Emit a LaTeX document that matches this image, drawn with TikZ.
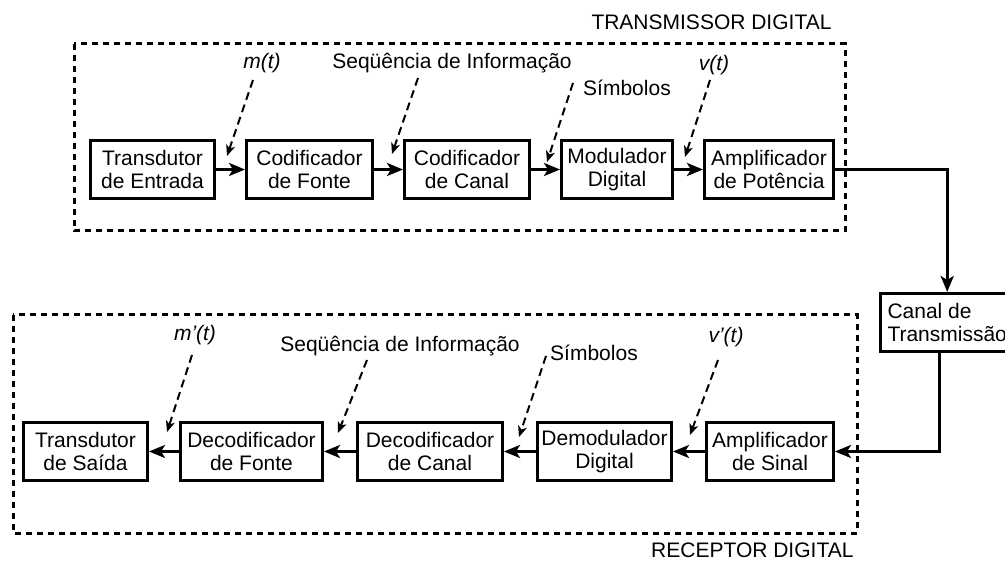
\documentclass[tikz,border=0pt]{standalone}
\usepackage{fontspec}
\setmainfont{Liberation Sans}
\usetikzlibrary{arrows.meta, positioning}

\begin{document}
\begin{tikzpicture}[x=1pt,y=-1pt]
 \tikzset{every node/.style={font=\fontsize{21}{23}\selectfont}}
 \tikzset{block/.style={draw, line width=3pt, minimum height=58pt, inner sep=0pt, align=center}}
 \tikzset{flow/.style={line width=3pt, -{Stealth[length=16pt,width=13pt,inset=4pt]}}}
 \tikzset{leader/.style={line width=2pt, dash pattern=on 8pt off 5pt,
        -{Stealth[length=11pt,width=9pt,inset=3pt]}}}
 \tikzset{frame/.style={line width=3pt, dash pattern=on 6pt off 5pt}}
 \tikzset{tag/.style={font=\fontsize{21}{23}\selectfont\itshape}}
 \useasboundingbox (0,0) rectangle (1005,561);
 \clip (0,0) rectangle (1005,561);

 % transmissor
 \draw[frame] (74,44) rectangle (845,231);
 \node[anchor=base east] (tx) at (835,30) {TRANSMISSOR DIGITAL};

 \node[block, minimum width=124pt, anchor=west] (tre) at (89,169.5) {Transdutor\\de Entrada};
 \node[block, minimum width=126pt, right=29pt of tre] (cfo) {Codificador\\de Fonte};
 \node[block, minimum width=125pt, right=29pt of cfo] (cca) {Codificador\\de Canal};
 \node[block, minimum width=111pt, right=29pt of cca] (mod) {Modulador\\Digital};
 \node[block, minimum width=129pt, right=29pt of mod] (apo) {Amplificador\\de Potência};

 \draw[flow] (tre) -- (cfo);
 \draw[flow] (cfo) -- (cca);
 \draw[flow] (cca) -- (mod);
 \draw[flow] (mod) -- (apo);

 \node[tag] (mt) at (262,63) {m(t)};
 \node (seqT) at (452,63) {Seqüência de Informação};
 \node (simT) at (627,88) {Símbolos};
 \node[tag] (vt) at (714,65) {v(t)};

 \coordinate (mt-a) at (253,80);   \coordinate (mt-b) at (227,156);
 \coordinate (seqT-a) at (418,78); \coordinate (seqT-b) at (392,154);
 \coordinate (simT-a) at (573,83); \coordinate (simT-b) at (547,162);
 \coordinate (vt-a) at (710,80);   \coordinate (vt-b) at (685,157);
 \draw[leader] (mt-a) -- (mt-b);
 \draw[leader] (seqT-a) -- (seqT-b);
 \draw[leader] (simT-a) -- (simT-b);
 \draw[leader] (vt-a) -- (vt-b);

 % canal
 \node[block, minimum width=133pt, inner xsep=7pt, align=left, anchor=north west] (canal) at (879,292) {Canal de\\Transmissão};
 \draw[flow] (apo.east) -| (canal.north);

 % receptor
 \draw[frame] (13,315) rectangle (857,533);
 \node[anchor=base east] (rx) at (857,557) {RECEPTOR DIGITAL};

 \node[block, minimum width=127pt, anchor=west] (asi) at (705,451.5) {Amplificador\\de Sinal};
 \node[block, minimum width=134pt, left=32pt of asi] (dmd) {Demodulador\\Digital};
 \node[block, minimum width=145pt, left=32pt of dmd] (dca) {Decodificador\\de Canal};
 \node[block, minimum width=142pt, left=32pt of dca] (dfo) {Decodificador\\de Fonte};
 \node[block, minimum width=124pt, left=30pt of dfo] (trs) {Transdutor\\de Saída};

 \draw[flow] ([xshift=-8pt]canal.south) |- (asi.east);
 \draw[flow] (asi) -- (dmd);
 \draw[flow] (dmd) -- (dca);
 \draw[flow] (dca) -- (dfo);
 \draw[flow] (dfo) -- (trs);

 \node[tag] (mpt) at (195,335) {m'(t)};
 \node (seqR) at (400,346) {Seqüência de Informação};
 \node (simR) at (594,353) {Símbolos};
 \node[tag] (vpt) at (726,337) {v'(t)};

 \coordinate (mpt-a) at (192,355);  \coordinate (mpt-b) at (167,432);
 \coordinate (seqR-a) at (367,360); \coordinate (seqR-b) at (338,433);
 \coordinate (simR-a) at (546,356); \coordinate (simR-b) at (519,437);
 \coordinate (vpt-a) at (718,360);  \coordinate (vpt-b) at (690,435);
 \draw[leader] (mpt-a) -- (mpt-b);
 \draw[leader] (seqR-a) -- (seqR-b);
 \draw[leader] (simR-a) -- (simR-b);
 \draw[leader] (vpt-a) -- (vpt-b);
\end{tikzpicture}
\end{document}
